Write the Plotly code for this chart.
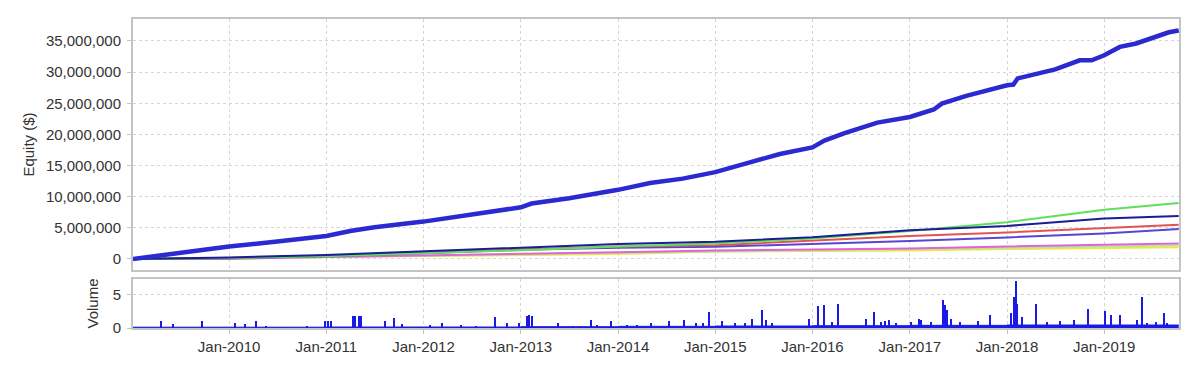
import plotly.graph_objects as go

# ---------------- data ----------------
main_dates = ["2009-01-05", "2009-07-01", "2010-01-01", "2010-07-01", "2011-01-01", "2011-04-01",
              "2011-07-01", "2012-01-01", "2012-07-01", "2013-01-01", "2013-02-10", "2013-07-01",
              "2014-01-01", "2014-05-01", "2014-09-01", "2015-01-01", "2015-05-01", "2015-09-01",
              "2016-01-01", "2016-02-15", "2016-05-01", "2016-09-01", "2017-01-01", "2017-04-01",
              "2017-05-01", "2017-08-01", "2018-01-01", "2018-01-25", "2018-02-10", "2018-07-01",
              "2018-10-01", "2018-11-15", "2019-01-01", "2019-03-01", "2019-05-01", "2019-09-01",
              "2019-10-08"]
main_equity = [0, 1.0e6, 2.0e6, 2.8e6, 3.7e6, 4.5e6, 5.1e6, 6.0e6, 7.2e6, 8.3e6, 8.9e6, 9.75e6,
               11.1e6, 12.2e6, 12.9e6, 13.95e6, 15.4e6, 16.85e6, 17.9e6, 19.0e6, 20.2e6, 21.9e6,
               22.8e6, 24.0e6, 24.95e6, 26.2e6, 27.9e6, 28.0e6, 29.0e6, 30.45e6, 31.9e6, 31.9e6,
               32.7e6, 34.05e6, 34.6e6, 36.4e6, 36.7e6]

sub_dates = ["2009-01-05", "2010-01-01", "2011-01-01", "2012-01-01", "2013-01-01", "2014-01-01",
             "2015-01-01", "2016-01-01", "2017-01-01", "2018-01-01", "2019-01-01", "2019-10-08"]
yellow_eq = [0, 0.05e6, 0.3e6, 0.5e6, 0.65e6, 0.8e6, 1.2e6, 1.3e6, 1.35e6, 1.6e6, 1.75e6, 1.9e6]
lightgreen_eq = [0, 0.05e6, 0.3e6, 0.55e6, 0.8e6, 1.0e6, 1.2e6, 1.4e6, 1.6e6, 1.85e6, 2.0e6, 2.15e6]
magenta_eq = [0, 0.05e6, 0.3e6, 0.6e6, 0.9e6, 1.1e6, 1.35e6, 1.5e6, 1.7e6, 2.0e6, 2.3e6, 2.5e6]
violet_eq = [0, 0.1e6, 0.45e6, 0.9e6, 1.5e6, 1.8e6, 1.95e6, 2.4e6, 2.9e6, 3.45e6, 4.1e6, 4.8e6]
red_eq = [0, 0.15e6, 0.5e6, 1.0e6, 1.5e6, 2.0e6, 2.2e6, 3.0e6, 3.7e6, 4.25e6, 5.0e6, 5.5e6]
green_eq = [0, 0.15e6, 0.45e6, 0.9e6, 1.4e6, 2.0e6, 2.5e6, 3.3e6, 4.5e6, 5.9e6, 7.9e6, 9.0e6]
navy_eq = [0, 0.25e6, 0.65e6, 1.2e6, 1.8e6, 2.4e6, 2.75e6, 3.5e6, 4.6e6, 5.3e6, 6.5e6, 6.9e6]

vol_spike_dates = ["2009-04-21", "2009-06-03", "2009-09-20", "2010-01-25", "2010-02-28", "2010-04-13",
                   "2010-05-20", "2010-07-10", "2010-10-22", "2010-12-28", "2011-01-07", "2011-01-18",
                   "2011-04-12", "2011-04-19", "2011-05-05", "2011-05-12", "2011-08-08", "2011-09-14",
                   "2011-10-12", "2012-01-25", "2012-03-10", "2012-05-20", "2012-07-15", "2012-09-24",
                   "2012-11-10", "2012-12-25", "2013-01-25", "2013-02-02", "2013-02-10", "2013-05-22",
                   "2013-07-15", "2013-08-10", "2013-09-20", "2013-10-15", "2013-12-05", "2014-02-03",
                   "2014-03-15", "2014-05-05", "2014-07-12", "2014-09-05", "2014-10-20", "2014-11-15",
                   "2014-12-10", "2015-01-25", "2015-03-15", "2015-04-22", "2015-05-18", "2015-06-25",
                   "2015-07-10", "2015-08-01", "2015-12-18", "2016-01-22", "2016-02-14", "2016-03-15",
                   "2016-04-05", "2016-07-20", "2016-08-20", "2016-09-15", "2016-10-01", "2016-10-15",
                   "2016-11-10", "2017-01-05", "2017-02-05", "2017-02-12", "2017-03-20", "2017-05-05",
                   "2017-05-12", "2017-05-20", "2017-06-05", "2017-07-10", "2017-08-20", "2017-09-15",
                   "2017-10-30", "2018-01-15", "2018-01-28", "2018-02-03", "2018-02-08", "2018-02-25",
                   "2018-04-20", "2018-05-30", "2018-07-20", "2018-09-10", "2018-11-03", "2019-01-05",
                   "2019-01-28", "2019-03-01", "2019-05-05", "2019-05-22", "2019-06-10", "2019-07-15",
                   "2019-08-14", "2019-08-25"]
vol_spike_vals = [1.1, 0.65, 1.1, 0.75, 0.6, 1.1,
                  0.25, 0.2, 0.35, 1.1, 1.1, 1.1,
                  1.75, 1.75, 1.85, 1.85, 1.0, 1.5,
                  0.6, 0.4, 0.7, 0.4, 0.3, 1.6,
                  0.7, 0.7, 1.8, 1.9, 1.8, 0.7,
                  0.3, 0.3, 1.2, 0.4, 1.05, 0.5,
                  0.4, 0.7, 1.0, 1.2, 0.7, 0.8,
                  2.35, 1.05, 0.7, 0.7, 1.3, 2.65,
                  1.2, 0.7, 1.4, 3.3, 3.45, 0.9,
                  3.7, 1.4, 2.4, 0.9, 1.1, 1.2,
                  0.7, 0.9, 1.4, 1.2, 0.9, 4.3,
                  3.45, 2.7, 1.4, 0.9, 0.5, 1.0,
                  1.9, 2.2, 4.7, 7.05, 3.7, 1.65,
                  3.7, 0.9, 1.1, 1.2, 2.8, 2.6,
                  2.0, 1.95, 1.2, 4.7, 0.7, 0.9,
                  2.2, 0.8]

vol_base_dates = ["2009-01-05", "2010-01-01", "2011-01-01", "2012-01-01", "2013-01-01", "2014-01-01",
                  "2015-01-01", "2016-01-01", "2017-01-01", "2018-01-01", "2019-01-01", "2019-10-08"]
vol_base_vals = [0.12, 0.12, 0.15, 0.15, 0.2, 0.25, 0.3, 0.35, 0.4, 0.45, 0.45, 0.45]

# ---------------- figure ----------------
fig = go.Figure()

subs = [
    (yellow_eq, "#f4e63c"),
    (lightgreen_eq, "#b4e89a"),
    (magenta_eq, "#e062dc"),
    (violet_eq, "#5a44d2"),
    (red_eq, "#e25454"),
    (green_eq, "#5ee05a"),
    (navy_eq, "#1c1c96"),
]
for vals, col in subs:
    fig.add_trace(go.Scatter(x=sub_dates, y=vals, mode="lines",
                             line=dict(color=col, width=2), xaxis="x", yaxis="y",
                             showlegend=False, hoverinfo="skip"))

fig.add_trace(go.Scatter(x=main_dates, y=main_equity, mode="lines",
                         line=dict(color="#2a2ad0", width=4.5), xaxis="x", yaxis="y",
                         showlegend=False))

fig.add_trace(go.Scatter(x=vol_base_dates, y=vol_base_vals, mode="lines", line_shape="hv",
                         fill="tozeroy", fillcolor="#1a1ae6", line=dict(color="#1a1ae6", width=1),
                         xaxis="x2", yaxis="y2", showlegend=False))
fig.add_trace(go.Bar(x=vol_spike_dates, y=vol_spike_vals, width=4 * 86400000,
                     marker=dict(color="#1a1ae6", line=dict(width=0)),
                     xaxis="x2", yaxis="y2", showlegend=False))

font = dict(family="Liberation Sans, Arial, sans-serif", size=15, color="#333333")
axis_common = dict(showline=True, mirror=True, linecolor="#c4c4c4", linewidth=2,
                   showgrid=True, gridcolor="#d6d6d6", griddash="dot", gridwidth=1,
                   zeroline=False)
xr = ["2009-01-05", "2019-10-09"]

fig.update_layout(
    width=1200, height=370,
    margin=dict(l=133, r=21, t=19, b=42),
    paper_bgcolor="white", plot_bgcolor="white",
    font=font,
    bargap=0,
    xaxis=dict(domain=[0, 1], range=xr, type="date", tick0="2010-01-01", dtick="M12",
               showticklabels=False, anchor="y", matches="x2", **axis_common),
    yaxis=dict(domain=[0.1877, 1], range=[-1.77e6, 38.53e6], dtick=5e6, tickformat=",d",
               ticks="outside", ticklen=4, tickcolor="#c4c4c4", ticklabelstandoff=3,
               title=dict(text="Equity ($)", standoff=8, font=font), anchor="x",
               **axis_common),
    xaxis2=dict(domain=[0, 1], range=xr, type="date", tick0="2010-01-01", dtick="M12",
                tickformat="%b-%Y", ticks="outside", ticklen=4, tickcolor="#c4c4c4",
                anchor="y2", **axis_common),
    yaxis2=dict(domain=[0, 0.1586], range=[0, 7.4], tickvals=[0, 5],
                ticks="outside", ticklen=4, tickcolor="#c4c4c4", ticklabelstandoff=3,
                title=dict(text="Volume", standoff=10, font=font), anchor="x2",
                **axis_common),
)

fig.write_html("out.html")
